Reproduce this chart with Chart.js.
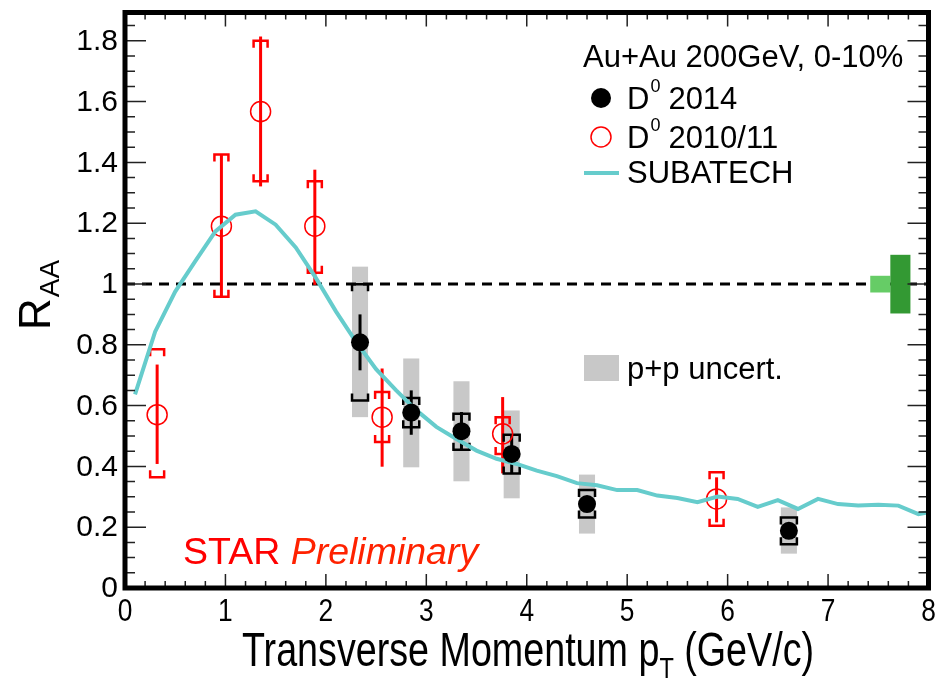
<!DOCTYPE html>
<html><head><meta charset="utf-8">
<script src="https://cdn.jsdelivr.net/npm/chart.js@4/dist/chart.umd.min.js"></script>
<style>html,body{margin:0;padding:0;background:#fff;}canvas{display:block;}</style>
</head><body>
<canvas id="c" width="940" height="680" style="width:940px;height:680px"></canvas>
<script>
// ---------- data ----------
const xTicks = [0,1,2,3,4,5,6,7,8];
const xTickLabels = ['0','1','2','3','4','5','6','7','8'];
const yTicks = [0,0.2,0.4,0.6,0.8,1,1.2,1.4,1.6,1.8];
const yTickLabels = ['0','0.2','0.4','0.6','0.8','1','1.2','1.4','1.6','1.8'];

// D0 2014 (black filled)
const blkX      = [2.34, 2.85, 3.35, 3.85, 4.60, 6.61];
const blkY      = [0.808, 0.577, 0.516, 0.441, 0.276, 0.188];
const blkStatLo = [0.716, 0.504, 0.454, 0.377, 0.252, 0.166];
const blkStatHi = [0.900, 0.650, 0.579, 0.504, 0.300, 0.210];
const blkSysLo  = [0.617, 0.529, 0.455, 0.377, 0.232, 0.144];
const blkSysHi  = [0.999, 0.625, 0.573, 0.504, 0.322, 0.232];
const ppLo      = [0.562, 0.397, 0.351, 0.295, 0.179, 0.113];
const ppHi      = [1.057, 0.755, 0.680, 0.584, 0.373, 0.265];

// D0 2010/11 (red open)
const redX      = [0.32, 0.96, 1.35, 1.89, 2.56, 3.76, 5.89];
const redY      = [0.570, 1.190, 1.567, 1.190, 0.562, 0.507, 0.293];
const redStatLo = [0.408, 0.958, 1.321, 0.997, 0.399, 0.377, 0.216];
const redStatHi = [0.735, 1.426, 1.814, 1.376, 0.722, 0.628, 0.364];
const redSysLo  = [0.364, 0.958, 1.338, 1.037, 0.480, 0.441, 0.205];
const redSysHi  = [0.785, 1.426, 1.800, 1.338, 0.645, 0.562, 0.381];

// SUBATECH model curve
const subX = [0.1,0.3,0.5,0.7,0.9,1.1,1.3,1.5,1.7,1.9,2.1,2.3,2.5,2.7,2.9,3.1,3.3,3.5,3.7,3.9,4.1,4.3,4.5,4.7,4.9,5.1,5.3,5.5,5.7,5.9,6.1,6.3,6.5,6.7,6.9,7.1,7.3,7.5,7.7,7.9,8.0];
const subY = [0.637,0.843,0.975,1.075,1.173,1.228,1.239,1.195,1.120,1.020,0.910,0.810,0.720,0.650,0.585,0.530,0.490,0.452,0.425,0.408,0.386,0.368,0.345,0.338,0.322,0.322,0.304,0.296,0.282,0.301,0.293,0.267,0.289,0.260,0.293,0.276,0.271,0.274,0.271,0.243,0.249];

// normalisation boxes at R_AA = 1
const normX0 = [7.42, 7.62];
const normX1 = [7.62, 7.82];
const normLo = [0.972, 0.903];
const normHi = [1.027, 1.096];
const normColors = ['#66cc66', '#339933'];

// ---------- styling ----------
const FONT = '"Liberation Sans", Arial, Helvetica, sans-serif';
const RED = '#ff0000';
const TEAL = '#66cccc';
const GREY = '#c8c8c8';

function txt(ctx, s, x, y, size, o) {
  o = o || {};
  ctx.save();
  ctx.font = (o.italic ? 'italic ' : '') + size + 'px ' + FONT;
  ctx.fillStyle = o.color || '#000';
  ctx.textAlign = o.align || 'left';
  ctx.textBaseline = o.base || 'alphabetic';
  ctx.translate(x, y);
  if (o.sx) ctx.scale(o.sx, 1);
  ctx.fillText(s, 0, 0);
  const w = ctx.measureText(s).width * (o.sx || 1);
  ctx.restore();
  return w;
}
function bracket(ctx, px, yTop, yBot, hw, leg) {
  const l = Math.min(leg, (yBot - yTop) / 2);
  ctx.beginPath();
  ctx.moveTo(px - hw, yTop + l); ctx.lineTo(px - hw, yTop); ctx.lineTo(px + hw, yTop); ctx.lineTo(px + hw, yTop + l);
  ctx.moveTo(px - hw, yBot - l); ctx.lineTo(px - hw, yBot); ctx.lineTo(px + hw, yBot); ctx.lineTo(px + hw, yBot - l);
  ctx.stroke();
}

const decor = {
  id: 'decor',
  beforeDatasetsDraw(chart) {
    const ctx = chart.ctx, xs = chart.scales.x, ys = chart.scales.y;
    ctx.save();
    // p+p uncertainty boxes
    ctx.fillStyle = GREY;
    blkX.forEach((v, i) => {
      const x0 = xs.getPixelForValue(v - 0.08), x1 = xs.getPixelForValue(v + 0.08);
      const y0 = ys.getPixelForValue(ppHi[i]), y1 = ys.getPixelForValue(ppLo[i]);
      ctx.fillRect(x0, y0, x1 - x0, y1 - y0);
    });
    // dashed unity line
    ctx.strokeStyle = '#000'; ctx.lineWidth = 3; ctx.setLineDash([10, 7]);
    ctx.beginPath();
    ctx.moveTo(xs.getPixelForValue(0), ys.getPixelForValue(1));
    ctx.lineTo(xs.getPixelForValue(8), ys.getPixelForValue(1));
    ctx.stroke();
    ctx.setLineDash([]);
    // red error bars
    ctx.strokeStyle = RED; ctx.lineWidth = 3;
    redX.forEach((v, i) => {
      const px = xs.getPixelForValue(v);
      ctx.beginPath();
      ctx.moveTo(px, ys.getPixelForValue(redStatHi[i]));
      ctx.lineTo(px, ys.getPixelForValue(redStatLo[i]));
      ctx.stroke();
    });
    ctx.lineWidth = 2.5;
    redX.forEach((v, i) => {
      const px = xs.getPixelForValue(v);
      bracket(ctx, px, ys.getPixelForValue(redSysHi[i]), ys.getPixelForValue(redSysLo[i]), 7, 7);
    });
    // black error bars
    ctx.strokeStyle = '#000'; ctx.lineWidth = 3;
    blkX.forEach((v, i) => {
      const px = xs.getPixelForValue(v);
      ctx.beginPath();
      ctx.moveTo(px, ys.getPixelForValue(blkStatHi[i]));
      ctx.lineTo(px, ys.getPixelForValue(blkStatLo[i]));
      ctx.stroke();
    });
    ctx.lineWidth = 2.5;
    blkX.forEach((v, i) => {
      const px = xs.getPixelForValue(v);
      bracket(ctx, px, ys.getPixelForValue(blkSysHi[i]), ys.getPixelForValue(blkSysLo[i]), 8, 7);
    });
    ctx.restore();
  },
  afterDatasetsDraw(chart) {
    const ctx = chart.ctx, xs = chart.scales.x, ys = chart.scales.y, a = chart.chartArea;
    ctx.save();
    // normalisation boxes
    normX0.forEach((v, i) => {
      const x0 = xs.getPixelForValue(v), x1 = xs.getPixelForValue(normX1[i]);
      const y0 = ys.getPixelForValue(normHi[i]), y1 = ys.getPixelForValue(normLo[i]);
      ctx.fillStyle = normColors[i];
      ctx.fillRect(x0, y0, x1 - x0, y1 - y0);
    });
    // ticks
    ctx.strokeStyle = '#222'; ctx.lineWidth = 1.5;
    ctx.beginPath();
    for (let k = 0; k <= 40; k++) {
      const v = k * 0.2, px = xs.getPixelForValue(v);
      const L = (k % 5 === 0) ? 14 : 7;
      ctx.moveTo(px, a.bottom); ctx.lineTo(px, a.bottom - L);
      ctx.moveTo(px, a.top); ctx.lineTo(px, a.top + L);
    }
    for (let k = 0; k <= 37; k++) {
      const v = k * 0.05, py = ys.getPixelForValue(v);
      const L = (k % 4 === 0) ? 21 : 10;
      ctx.moveTo(a.left, py); ctx.lineTo(a.left + L, py);
      ctx.moveTo(a.right, py); ctx.lineTo(a.right - L, py);
    }
    ctx.stroke();
    // frame
    ctx.strokeStyle = '#000'; ctx.lineWidth = 5;
    ctx.strokeRect(a.left, a.top, a.right - a.left, a.bottom - a.top);
    // tick labels
    xTicks.forEach((v, i) => txt(ctx, xTickLabels[i], xs.getPixelForValue(v), 597, 31, {align: 'center', base: 'top', sx: 0.85}));
    yTicks.forEach((v, i) => txt(ctx, yTickLabels[i], 118, ys.getPixelForValue(v) + 1, 30, {align: 'right', base: 'middle'}));
    // x title (condensed)
    ctx.save();
    ctx.translate(528, 666);
    ctx.scale(0.785, 1);
    ctx.font = '48px ' + FONT;
    const p1 = 'Transverse Momentum p', p3 = ' (GeV/c)';
    const w1 = ctx.measureText(p1).width, w3 = ctx.measureText(p3).width;
    ctx.font = '30px ' + FONT;
    const w2 = ctx.measureText('T').width;
    const tot = w1 + w2 + w3;
    let cx = -tot / 2;
    ctx.fillStyle = '#000';
    ctx.font = '48px ' + FONT; ctx.fillText(p1, cx, 0); cx += w1;
    ctx.font = '30px ' + FONT; ctx.fillText('T', cx, 12); cx += w2;
    ctx.font = '48px ' + FONT; ctx.fillText(p3, cx, 0);
    ctx.restore();
    // y title
    ctx.save();
    ctx.translate(50, 330);
    ctx.rotate(-Math.PI / 2);
    ctx.fillStyle = '#000';
    ctx.font = '44px ' + FONT;
    ctx.fillText('R', 0, 0);
    const wr = ctx.measureText('R').width;
    ctx.font = '28px ' + FONT;
    ctx.fillText('AA', wr + 1, 9);
    ctx.restore();
    // legend block
    txt(ctx, 'Au+Au 200GeV, 0-10%', 583, 67, 31);
    ctx.fillStyle = '#000';
    ctx.beginPath(); ctx.arc(601, 98, 10, 0, Math.PI * 2); ctx.fill();
    ctx.strokeStyle = RED; ctx.lineWidth = 1.5;
    ctx.beginPath(); ctx.arc(601, 137, 10, 0, Math.PI * 2); ctx.stroke();
    ctx.strokeStyle = TEAL; ctx.lineWidth = 4;
    ctx.beginPath(); ctx.moveTo(584, 173); ctx.lineTo(619, 173); ctx.stroke();
    let wd = txt(ctx, 'D', 627, 109, 31);
    txt(ctx, '0', 627 + wd + 1, 92, 18);
    txt(ctx, '2014', 627 + wd + 19, 109, 31);
    wd = txt(ctx, 'D', 627, 148, 31);
    txt(ctx, '0', 627 + wd + 1, 131, 18);
    txt(ctx, '2010/11', 627 + wd + 19, 148, 31);
    txt(ctx, 'SUBATECH', 627, 183, 31);
    // p+p uncert.
    ctx.fillStyle = GREY;
    ctx.fillRect(584, 355, 35, 26);
    txt(ctx, 'p+p uncert.', 627, 379, 31);
    // STAR Preliminary
    const ws = txt(ctx, 'STAR ', 183, 564, 37.5, {color: RED});
    txt(ctx, 'Preliminary', 183 + ws, 564, 37.5, {color: '#ff2200', italic: true});
    ctx.restore();
  }
};

new Chart(document.getElementById('c'), {
  type: 'scatter',
  data: {
    datasets: [
      { label: 'D0 2014', data: blkX.map((v, i) => ({x: v, y: blkY[i]})),
        pointRadius: 9, pointHoverRadius: 9, backgroundColor: '#000', borderColor: '#000', borderWidth: 0, order: 0 },
      { label: 'SUBATECH', data: subX.map((v, i) => ({x: v, y: subY[i]})), showLine: true,
        borderColor: TEAL, borderWidth: 4, pointRadius: 0, tension: 0, fill: false, order: 1 },
      { label: 'D0 2010/11', data: redX.map((v, i) => ({x: v, y: redY[i]})),
        pointRadius: 10, pointHoverRadius: 10, backgroundColor: 'rgba(0,0,0,0)', borderColor: RED, borderWidth: 1.5, order: 2 }
    ]
  },
  options: {
    responsive: false,
    devicePixelRatio: 1,
    animation: false,
    layout: { padding: { left: 125, right: 10, top: 12.5, bottom: 92 } },
    plugins: { legend: { display: false }, tooltip: { enabled: false } },
    scales: {
      x: { type: 'linear', min: 0, max: 8, display: false },
      y: { type: 'linear', min: 0, max: 1.893, display: false }
    }
  },
  plugins: [decor]
});
</script>
</body></html>
